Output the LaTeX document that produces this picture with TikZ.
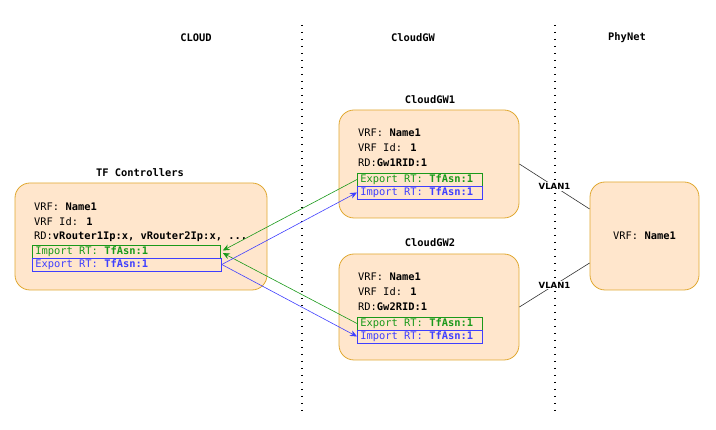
\documentclass[tikz,border=0pt]{standalone}
\usepackage{fontspec}
\setmainfont{DejaVu Sans Mono}
\newfontfamily\vlanfont{DejaVu Sans}
\usetikzlibrary{arrows.meta}
\definecolor{boxfill}{HTML}{FFE6CC}
\definecolor{boxdraw}{HTML}{E0A830}
\definecolor{gr}{HTML}{1A991A}
\definecolor{bl}{HTML}{3F3FFF}
\newcommand{\rtline}[2]{\makebox[#1][l]{#2}}
\begin{document}
\begin{tikzpicture}[x=1pt,y=-1pt,
  font=\fontsize{10.4}{15}\selectfont,
  bigbox/.style={draw=boxdraw,fill=boxfill,rounded corners=15pt,line width=0.8pt},
  txt/.style={anchor=west,inner sep=0pt},
  hdr/.style={inner sep=0pt,font=\fontsize{10.4}{15}\selectfont\bfseries},
  rtg/.style={draw=gr,text=gr,anchor=west,inner xsep=3pt,inner ysep=0pt,minimum height=13pt,line width=0.8pt},
  rtb/.style={draw=bl,text=bl,anchor=west,inner xsep=3pt,inner ysep=0pt,minimum height=13pt,line width=0.8pt},
  sep/.style={line width=1.4pt,dash pattern=on 1.4pt off 5.6pt},
  garr/.style={draw=gr,line width=0.6pt,-{Stealth[length=7pt,width=6pt]}},
  barr/.style={draw=bl,line width=0.6pt,-{Stealth[length=7pt,width=6pt]}},
  lnk/.style={draw=black!80,line width=0.6pt},
  vlan/.style={fill=white,inner sep=1pt,font=\vlanfont\fontsize{8.5}{10}\selectfont\bfseries}
]
\useasboundingbox (0,0) rectangle (716,430);

% separators
\coordinate (s1t) at (302,25); \coordinate (s1b) at (302,416);
\coordinate (s2t) at (555,25); \coordinate (s2b) at (555,416);
\draw[sep] (s1t) -- (s1b);
\draw[sep] (s2t) -- (s2b);

% headers
\node[hdr] (hcloud) at (196,38) {CLOUD};
\node[hdr] (hgw) at (413,38) {CloudGW};
\node[hdr] (hphy) at (627,38) {PhyNet};

% TF controllers
\node[hdr] (ttf) at (140,173) {TF Controllers};
\node[bigbox,minimum width=252pt,minimum height=107pt] (tf) at (141,236.5) {};
\node[txt] (tf1) at (34,207) {VRF: \textbf{Name1}};
\node[txt] (tf2) at (34,222) {VRF Id: \textbf{1}};
\node[txt] (tf3) at (34,237) {RD:\textbf{vRouter1Ip:x, vRouter2Ip:x, ...}};
\node[rtg] (timp) at (32,251.5) {\rtline{182pt}{Import RT: \textbf{TfAsn:1}}};
\node[rtb] (texp) at (32,264.5) {\rtline{183pt}{Export RT: \textbf{TfAsn:1}}};

% CloudGW1
\node[hdr] (tg1) at (430,100) {CloudGW1};
\node[bigbox,minimum width=180pt,minimum height=108pt] (gw1) at (429,164) {};
\node[txt] (g11) at (358,133) {VRF: \textbf{Name1}};
\node[txt] (g12) at (358,148) {VRF Id: \textbf{1}};
\node[txt] (g13) at (358,163) {RD:\textbf{Gw1RID:1}};
\node[rtg] (g1exp) at (357,179.5) {\rtline{119pt}{Export RT: \textbf{TfAsn:1}}};
\node[rtb] (g1imp) at (357,192.5) {\rtline{119pt}{Import RT: \textbf{TfAsn:1}}};

% CloudGW2
\node[hdr] (tg2) at (430,243) {CloudGW2};
\node[bigbox,minimum width=180pt,minimum height=106pt] (gw2) at (429,307) {};
\node[txt] (g21) at (358,277) {VRF: \textbf{Name1}};
\node[txt] (g22) at (358,292) {VRF Id: \textbf{1}};
\node[txt] (g23) at (358,307) {RD:\textbf{Gw2RID:1}};
\node[rtg] (g2exp) at (357,323.5) {\rtline{119pt}{Export RT: \textbf{TfAsn:1}}};
\node[rtb] (g2imp) at (357,336.5) {\rtline{119pt}{Import RT: \textbf{TfAsn:1}}};

% PhyNet
\node[bigbox,minimum width=109pt,minimum height=108pt] (phy) at (644.5,236) {};
\node[inner sep=0pt] (phyt) at (644.5,236) {VRF: \textbf{Name1}};

% links
\draw[lnk] (gw1.east) -- node[vlan] (v1) {VLAN1} ([yshift=27pt]phy.west);
\draw[lnk] (gw2.east) -- node[vlan] (v2) {VLAN1} ([yshift=-27pt]phy.west);

% RT arrows
\draw[garr] (g1exp.west) -- ([yshift=1pt,xshift=2pt]timp.east);
\draw[garr] (g2exp.west) -- ([yshift=-1.5pt,xshift=2pt]timp.east);
\draw[barr] (texp.east) -- (g1imp.west);
\draw[barr] (texp.east) -- (g2imp.west);
\end{tikzpicture}
\end{document}
